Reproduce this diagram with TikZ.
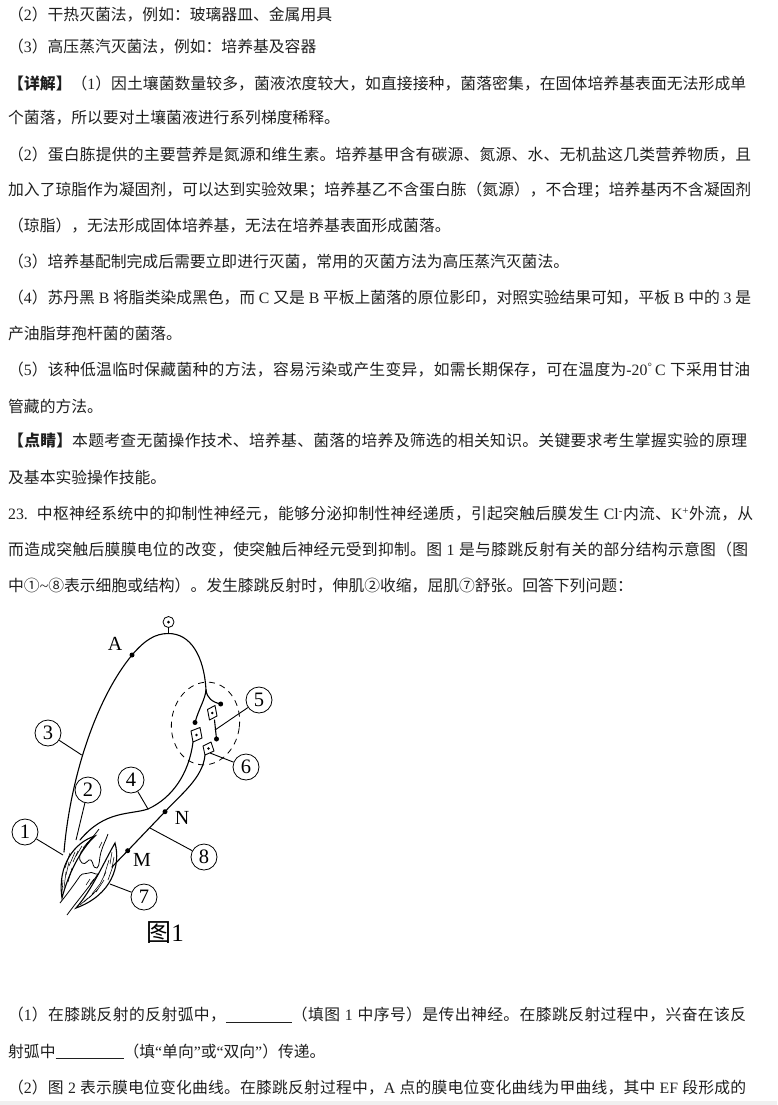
\documentclass[tikz,border=0pt]{standalone}
\usepackage{fontspec}
\setmainfont{Liberation Serif}
\newfontfamily\cjk{Noto Sans CJK SC}
\newcommand\lt[1]{{\rmfamily #1}}
\newcommand\blank[1]{\rule[-1.5pt]{#1}{0.6pt}}
\XeTeXinterchartokenstate=1
\newXeTeXintercharclass\cjkcls
\count255="2460
\loop\XeTeXcharclass\count255=\cjkcls\advance\count255 by 1 \ifnum\count255<"2500 \repeat
\count255="3000
\loop\XeTeXcharclass\count255=\cjkcls\advance\count255 by 1 \ifnum\count255<"A000 \repeat
\count255="FF00
\loop\XeTeXcharclass\count255=\cjkcls\advance\count255 by 1 \ifnum\count255<"FFF0 \repeat
\XeTeXinterchartoks\cjkcls\cjkcls={\hskip 0pt plus 1pt minus 0.4pt\relax}
\newcommand\jline[2]{\makebox[#1][s]{#2}}
\begin{document}
\begin{tikzpicture}[x=1pt,y=-1pt,
  txt/.style={anchor=west,inner sep=0pt,font=\cjk\fontsize{15.8}{16}\selectfont,text=black!88},
  nerve/.style={line width=1.1pt,line cap=round,line join=round},
  leader/.style={line width=0.9pt},
  lbl/.style={circle,draw,line width=0.8pt,minimum size=26pt,inner sep=0pt,font=\rmfamily\fontsize{20.5}{20.5}\selectfont},
  ptlbl/.style={inner sep=0pt,font=\rmfamily\fontsize{20}{20}\selectfont},
  syn/.style={circle,fill,inner sep=0pt,minimum size=5pt},
  cell/.style={line width=0.9pt,fill=white,line join=round},
  muscle/.style={line width=1.1pt,fill=white},
  bone/.style={line width=0.8pt},
  hatch/.style={line width=0.55pt},
]
\useasboundingbox (0,0) rectangle (777,1105);
\fill[black!6] (0,1101) rectangle (777,1105);

% ---------- text above ----------
\node[txt] (l1) at (8,15) {（\lt{2}）干热灭菌法，例如：玻璃器皿、金属用具};
\node[txt] (l2) at (8,47) {（\lt{3}）高压蒸汽灭菌法，例如：培养基及容器};
\node[txt] (l3) at (8,84) {\jline{738pt}{{\bfseries 【详解】}（\lt{1}）因土壤菌数量较多，菌液浓度较大，如直接接种，菌落密集，在固体培养基表面无法形成单}};
\node[txt] (l4) at (8,118) {个菌落，所以要对土壤菌液进行系列梯度稀释。};
\node[txt] (l5) at (8,155) {\jline{743pt}{（\lt{2}）蛋白胨提供的主要营养是氮源和维生素。培养基甲含有碳源、氮源、水、无机盐这几类营养物质，且}};
\node[txt] (l6) at (8,190) {\jline{743pt}{加入了琼脂作为凝固剂，可以达到实验效果；培养基乙不含蛋白胨（氮源），不合理；培养基丙不含凝固剂}};
\node[txt] (l7) at (8,226) {（琼脂），无法形成固体培养基，无法在培养基表面形成菌落。};
\node[txt] (l8) at (8,262) {（\lt{3}）培养基配制完成后需要立即进行灭菌，常用的灭菌方法为高压蒸汽灭菌法。};
\node[txt] (l9) at (8,298) {\jline{743pt}{（\lt{4}）苏丹黑\lt{ B }将脂类染成黑色，而\lt{ C }又是\lt{ B }平板上菌落的原位影印，对照实验结果可知，平板\lt{ B }中的\lt{ 3 }是}};
\node[txt] (l10) at (8,334) {产油脂芽孢杆菌的菌落。};
\node[txt] (l11) at (8,370) {\jline{742pt}{（\lt{5}）该种低温临时保藏菌种的方法，容易污染或产生变异，如需长期保存，可在温度为\lt{-20\textsuperscript{°}\,C }下采用甘油}};
\node[txt] (l12) at (8,406) {管藏的方法。};
\node[txt] (l13) at (8,441) {\jline{739pt}{{\bfseries 【点睛】}本题考查无菌操作技术、培养基、菌落的培养及筛选的相关知识。关键要求考生掌握实验的原理}};
\node[txt] (l14) at (8,477) {及基本实验操作技能。};
\node[txt] (l15) at (8,514) {\jline{745pt}{\lt{23.\ \ }中枢神经系统中的抑制性神经元，能够分泌抑制性神经递质，引起突触后膜发生\lt{ Cl\textsuperscript{-}}内流、\lt{K\textsuperscript{+}}外流，从}};
\node[txt] (l16) at (8,550) {\jline{740pt}{而造成突触后膜膜电位的改变，使突触后神经元受到抑制。图\lt{ 1 }是与膝跳反射有关的部分结构示意图（图}};
\node[txt] (l17) at (8,586) {中①\lt{\textasciitilde}⑧表示细胞或结构）。发生膝跳反射时，伸肌②收缩，屈肌⑦舒张。回答下列问题：};

% ---------- text below ----------
\node[txt] (l18) at (8,1015) {\jline{738pt}{（\lt{1}）在膝跳反射的反射弧中，\blank{66pt}（填图\lt{ 1 }中序号）是传出神经。在膝跳反射过程中，兴奋在该反}};
\node[txt] (l19) at (8,1051) {射弧中\blank{68pt}（填\lt{“}单向\lt{”}或\lt{“}双向\lt{”}）传递。};
\node[txt] (l20) at (8,1088) {\jline{738pt}{（\lt{2}）图\lt{ 2 }表示膜电位变化曲线。在膝跳反射过程中，\lt{A }点的膜电位变化曲线为甲曲线，其中\lt{ EF }段形成的}};

% ---------- figure ----------
% spinal cord (dashed)
\draw[line width=0.8pt,dash pattern=on 6pt off 5pt,rotate around={-8:(205.5,723.5)}] (205.5,723.5) ellipse [x radius=34, y radius=41.5];

% knee: muscles and bones
\draw[muscle] (95,836) .. controls (75,842) and (57,865) .. (62,898) .. controls (68,875) and (80,850) .. (95,836) -- cycle;
\draw[muscle] (115,843) .. controls (121,865) and (112,895) .. (76,908) .. controls (92,890) and (104,862) .. (115,843) -- cycle;
\foreach \a/\b/\c/\d in {70/853/65/868, 75/852/69/866, 82/846/76/856, 66/872/64/888, 72/868/68/882, 88/842/83/848, 63/880/62/893, 78/851/73/862, 69/862/66/875, 91/839/86/845}
  \draw[hatch] (\a,\b) -- (\c,\d);
\foreach \a/\b/\c/\d in {112/852/110/864, 109/860/104/876, 106/872/100/884, 100/884/92/894, 94/893/84/902, 113/866/108/880, 104/880/96/892, 114/857/112/868, 98/889/89/898, 88/898/80/905}
  \draw[hatch] (\a,\b) -- (\c,\d);
% femur
\draw[bone] (99,829) .. controls (94,836) and (88,842) .. (84,848) .. controls (79,853) and (78,860) .. (82,863) .. controls (86,866) and (88,858) .. (91,860) .. controls (94,863) and (92,868) .. (97,868) .. controls (100,866) and (99,858) .. (101,852) .. controls (103,845) and (106,840) .. (108,834);
% tibia
\draw[bone] (60,903) .. controls (68,893) and (76,882) .. (80,876) .. controls (83,872) and (86,875) .. (89,873) .. controls (92,871) and (95,875) .. (98,874);
\draw[bone] (67,915) .. controls (78,900) and (90,886) .. (98,874);
\draw[hatch] (86,885) -- (90,879);
\draw[hatch] (90,884) -- (94,879);
\draw[hatch] (99,848) -- (102,842);

% ganglion
\node[circle,draw,line width=0.8pt,minimum size=11pt,inner sep=0pt] (gg) at (168.5,622) {};
\fill (gg.center) circle (1.5);
\coordinate (top) at (168.5,633.5);
\draw[line width=0.8pt] (gg.south) -- (top);

% sensory neuron 3
\coordinate (s0) at (64,852);
\node[syn] (A) at (132,655) {};
\coordinate (br) at (206,690);
\node[syn] (s1) at (220.7,704) {};
\node[syn] (s2) at (195,722.5) {};
\node[syn] (s3) at (216.5,739) {};
\draw[nerve] (s0) .. controls (70,780) and (95,700) .. (A.center) .. controls (145,640) and (155,633.5) .. (top) .. controls (190,633.5) and (204,655) .. (br);
\draw[nerve] (br) .. controls (207,698) and (212,702) .. (s1.center);
\draw[nerve] (br) .. controls (205,700) and (199,708) .. (s2.center);

% interneuron 5
\draw[cell] (207.5,709.5) -- (215,705.5) -- (217,716) -- (209.5,720) -- cycle;
\fill (212.3,713) circle (1.4);
\coordinate (in5) at (214.5,720);
\draw[nerve] (in5) -- (s3.center);

% motor neurons
\draw[cell] (191,731) -- (200,727.5) -- (202,738) -- (193,742) -- cycle;
\fill (196.5,735) circle (1.4);
\coordinate (m1b) at (193,742);
\draw[cell] (203,746) -- (211,742) -- (214,751) -- (205,755) -- cycle;
\fill (208.5,748.5) circle (1.4);
\coordinate (m2b) at (205,755);

% efferent 4
\coordinate (j4) at (148,809);
\coordinate (e4) at (80,840);
\draw[nerve] (m1b) .. controls (189,774) and (172,798) .. (j4) .. controls (130,815) and (105,810) .. (e4);

% efferent 8
\node[syn] (N) at (165,811.7) {};
\node[syn] (M) at (127.7,850.7) {};
\coordinate (e8) at (112,867);
\draw[nerve] (m2b) .. controls (203,778) and (180,795) .. (N.center) -- (M.center) -- (e8);

% point labels
\node[ptlbl] (Alab) at (115,644) {A};
\node[ptlbl] (Nlab) at (182,818) {N};
\node[ptlbl] (Mlab) at (142,860) {M};

% circled labels
\node[lbl] (n1) at (25,832) {1};
\node[lbl] (n2) at (88,790) {2};
\node[lbl] (n3) at (48,733) {3};
\node[lbl] (n4) at (131,780) {4};
\node[lbl] (n5) at (259,700) {5};
\node[lbl] (n6) at (246,767) {6};
\node[lbl] (n7) at (144,897) {7};
\node[lbl] (n8) at (204,857) {8};
\coordinate (t1) at (63,855);
\coordinate (t2) at (76,840);
\coordinate (t3) at (81.7,755);
\coordinate (t4) at (148,809);
\coordinate (t5) at (215,730);
\coordinate (t6) at (210,753);
\coordinate (t7) at (110,884);
\coordinate (t8) at (150,828);
\draw[leader] (n1) -- (t1);
\draw[leader] (n2) -- (t2);
\draw[leader] (n3) -- (t3);
\draw[leader] (n4) -- (t4);
\draw[leader] (n5) -- (t5);
\draw[leader] (n6) -- (t6);
\draw[leader] (n7) -- (t7);
\draw[leader] (n8) -- (t8);

% caption
\node[font=\cjk\fontsize{25}{25}\selectfont,inner sep=0pt] (cap) at (165,933) {图\lt{1}};
\end{tikzpicture}
\end{document}
